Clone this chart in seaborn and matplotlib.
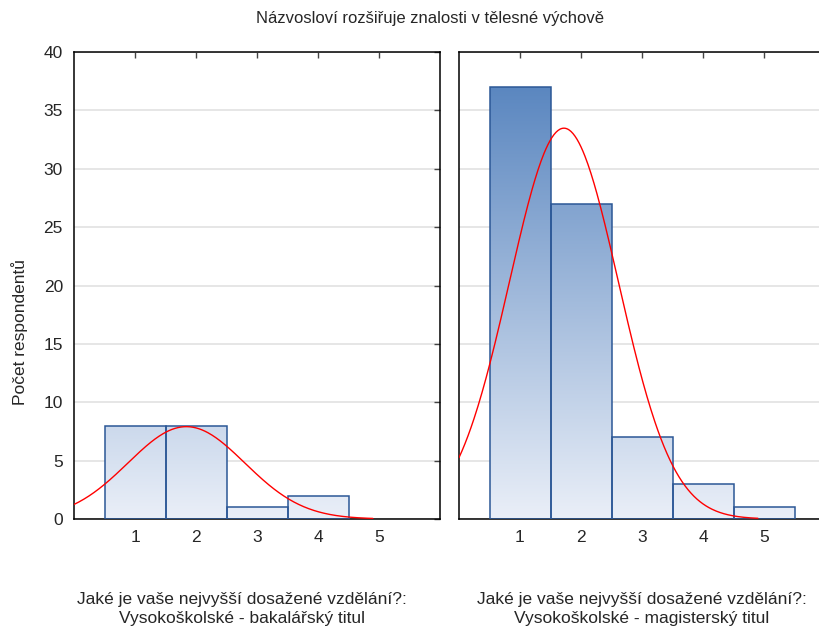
import numpy as np
import pandas as pd
import seaborn as sns
import matplotlib.pyplot as plt
from matplotlib.colors import LinearSegmentedColormap

# odpovedi 1..5, pocty respondentu
categories = [1, 2, 3, 4, 5]
counts_bc = [8, 8, 1, 2, 0]
counts_mgr = [37, 27, 7, 3, 1]

title = "Názvosloví rozšiřuje znalosti v tělesné výchově"
ylabel = "Počet respondentů"
xlabel_bc = "Jaké je vaše nejvyšší dosažené vzdělání?:\nVysokoškolské - bakalářský titul"
xlabel_mgr = "Jaké je vaše nejvyšší dosažené vzdělání?:\nVysokoškolské - magisterský titul"
yticks = [0, 5, 10, 15, 20, 25, 30, 35, 40]

sns.set_style("white")
plt.rcParams['font.family'] = ['Liberation Sans', 'DejaVu Sans']
FS = 12.5

grad_cmap = LinearSegmentedColormap.from_list("grad", ["#eaeff8", "#5b87c0"])
EDGE = "#2b5796"
W, H = 819, 631


def draw_panel(ax, counts):
    df = pd.DataFrame({"val": categories, "n": counts})
    df = df[df["n"] > 0]
    sns.histplot(data=df, x="val", weights="n", discrete=True, ax=ax,
                 fill=True, facecolor="none", edgecolor=EDGE, linewidth=1.1,
                 alpha=1, zorder=3)
    # gradient fill clipped to each bar
    grad = np.linspace(0, 1, 256).reshape(-1, 1)
    for p in ax.patches:
        im = ax.imshow(grad, cmap=grad_cmap, origin="lower", aspect="auto",
                       extent=[0, 6, 0, 37], zorder=2, interpolation="bilinear")
        im.set_clip_path(p)

    # normal curve fitted to the data
    vals = np.repeat(categories, counts)
    n = len(vals)
    mu = vals.mean()
    sd = vals.std(ddof=1)
    xs = np.linspace(0, 4.9, 300)
    ys = n * np.exp(-0.5 * ((xs - mu) / sd) ** 2) / (sd * np.sqrt(2 * np.pi))
    sns.lineplot(x=xs, y=ys, ax=ax, color="#ff0000", linewidth=1.0, zorder=4)

    ax.set_xlim(0, 6)
    ax.set_ylim(0, 40)
    ax.set_xticks(categories)
    ax.set_yticks(yticks)
    ax.yaxis.grid(True, color="#e2e2e2", linewidth=1.2, zorder=0)
    ax.xaxis.grid(False)
    ax.set_axisbelow(True)
    ax.tick_params(direction="in", top=True, right=True, length=4, width=1,
                   color="#444444", labelsize=FS, pad=8)
    for s in ax.spines.values():
        s.set_color("black")
        s.set_linewidth(1.1)
    ax.set_xlabel("")
    ax.set_ylabel("")


fig = plt.figure(figsize=(W / 100, H / 100), dpi=100)
ax1 = fig.add_axes([74 / W, 1 - 519 / H, (440 - 74) / W, (519 - 52) / H])
ax2 = fig.add_axes([459 / W, 1 - 519 / H, (825 - 459) / W, (519 - 52) / H])

draw_panel(ax1, counts_bc)
draw_panel(ax2, counts_mgr)
ax2.tick_params(labelleft=False)

fig.text(430 / W, 1 - 18 / H, title, ha="center", va="center", fontsize=FS - 0.5)
fig.text(20 / W, 1 - 332 / H, ylabel, rotation=90, ha="center", va="center", fontsize=FS)
fig.text(242 / W, 1 - 609 / H, xlabel_bc, ha="center", va="center", fontsize=FS,
         linespacing=1.3)
fig.text(642 / W, 1 - 609 / H, xlabel_mgr, ha="center", va="center", fontsize=FS,
         linespacing=1.3)

fig.savefig("out.png", dpi=100)
